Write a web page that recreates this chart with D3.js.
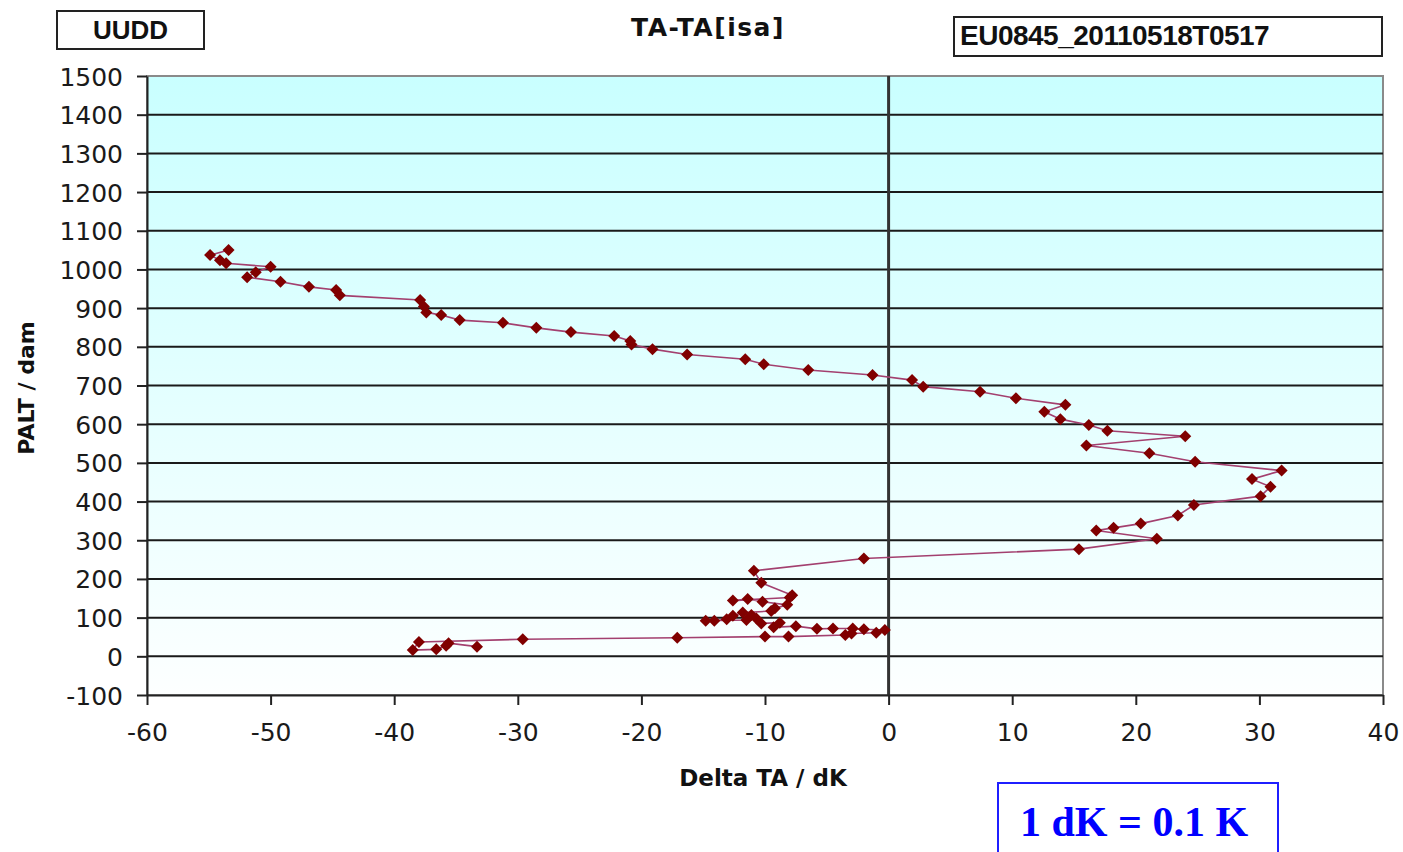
<!DOCTYPE html>
<html>
<head>
<meta charset="utf-8">
<script src="https://cdn.jsdelivr.net/npm/d3@7"></script>
<style>
  body { margin: 0; background: #fff; }
</style>
</head>
<body>
<div id="chart"></div>
<script>
// profile values, read top-down from the picture
const deltaTA = [
  -53.4, -54.9, -54.1, -53.6, -50.0, -51.2, -51.9, -49.2, -46.9, -44.7,
  -44.4, -37.9, -37.6, -37.4, -36.2, -34.7, -31.2, -28.5, -25.7, -22.2,
  -20.9, -20.8, -19.1, -16.3, -11.6, -10.1, -6.5, -1.3, 1.9, 2.8,
  7.4, 10.3, 14.3, 12.6, 13.9, 16.2, 17.7, 24.0, 16.0, 21.1,
  24.8, 31.8, 29.4, 30.9, 30.1, 24.7, 23.4, 20.4, 18.2, 16.8,
  21.7, 15.4, -2.0, -10.9, -10.3, -7.8, -8.0, -12.6, -11.4, -10.2,
  -8.2, -9.2, -9.5, -11.8, -12.6, -13.1, -14.1, -14.8, -11.5, -11.1,
  -10.7, -10.3, -8.8, -9.3, -7.5, -5.8, -4.5, -2.9, -2.0, -0.3,
  -1.0, -3.0, -3.5, -8.1, -10.0, -17.1, -29.6, -38.0, -38.5, -36.6,
  -35.8, -35.6, -33.3
];
const palt = [
  1050, 1037, 1024, 1016, 1007, 993, 980, 968, 955, 947,
  933, 921, 904, 889, 882, 869, 862, 849, 838, 828,
  815, 806, 794, 780, 768, 755, 740, 727, 714, 697,
  684, 667, 650, 632, 613, 598, 583, 569, 545, 525,
  503, 480, 458, 438, 414, 391, 364, 343, 332, 325,
  304, 277, 253, 221, 190, 158, 152, 144, 148, 141,
  133, 124, 117, 113, 105, 96, 92, 92, 94, 107,
  98, 85, 87, 75, 78, 71, 72, 72, 70, 68,
  61, 59, 55, 51, 51, 48, 44, 37, 16, 18,
  27, 34, 25
];
const xTicks = [-60, -50, -40, -30, -20, -10, 0, 10, 20, 30, 40];
const yTicks = [-100, 0, 100, 200, 300, 400, 500, 600, 700, 800, 900, 1000, 1100, 1200, 1300, 1400, 1500];

const chartTitle = 'TA-TA[isa]';
const stationLabel = 'UUDD';
const flightLabel = 'EU0845_20110518T0517';
const xTitle = 'Delta TA / dK';
const yTitle = 'PALT / dam';
const unitNote = '1 dK = 0.1 K';

const W = 1403, H = 852;
const margin = { top: 76, right: 20, bottom: 157, left: 147 };
const width = W - margin.left - margin.right;
const height = H - margin.top - margin.bottom;

const points = deltaTA.map((d, i) => ({ dt: d, alt: palt[i] }));

const svg = d3.select('#chart')
  .append('svg')
  .attr('width', W)
  .attr('height', H);

const defs = svg.append('defs');
const grad = defs.append('linearGradient')
  .attr('id', 'bg')
  .attr('x1', 0).attr('y1', 0).attr('x2', 0).attr('y2', 1);
grad.append('stop').attr('offset', '0%').attr('stop-color', '#c9ffff');
grad.append('stop').attr('offset', '100%').attr('stop-color', '#fdffff');

const g = svg.append('g')
  .attr('transform', `translate(${margin.left}, ${margin.top})`);

const x = d3.scaleLinear().domain([-60, 40]).range([0, width]);
const y = d3.scaleLinear().domain([-100, 1500]).range([height, 0]);
const plain = d => String(d);

// plot area
g.append('rect')
  .attr('width', width)
  .attr('height', height)
  .attr('fill', 'url(#bg)')
  .attr('stroke', '#8a8a8a')
  .attr('stroke-width', 2);

// horizontal grid lines
g.selectAll('.ygrid')
  .data(yTicks.filter(d => d > -100 && d < 1500))
  .join('line')
  .attr('x1', 0)
  .attr('x2', width)
  .attr('y1', d => y(d))
  .attr('y2', d => y(d))
  .attr('stroke', '#1a1a1a')
  .attr('stroke-width', 2);

// zero line
g.append('line')
  .attr('x1', x(0)).attr('x2', x(0))
  .attr('y1', 0).attr('y2', height)
  .attr('stroke', '#333')
  .attr('stroke-width', 3);

//x-axis
g.append('g')
  .attr('transform', `translate(0, ${height})`)
  .call(d3.axisBottom(x).tickValues(xTicks).tickFormat(plain).tickSize(10).tickPadding(18).tickSizeOuter(0))
  .call(ax => ax.select('.domain').attr('stroke', '#222').attr('stroke-width', 2))
  .call(ax => ax.selectAll('.tick line').attr('stroke', '#222').attr('stroke-width', 2))
  .selectAll('.tick text')
  .attr('fill', '#1a1a1a')
  .style('font-family', '"DejaVu Sans", Verdana, sans-serif')
  .style('font-size', '25px');

//y-axis
g.append('g')
  .call(d3.axisLeft(y).tickValues(yTicks).tickFormat(plain).tickSize(10).tickPadding(14).tickSizeOuter(0))
  .call(ax => ax.select('.domain').attr('stroke', '#222').attr('stroke-width', 2))
  .call(ax => ax.selectAll('.tick line').attr('stroke', '#222').attr('stroke-width', 2))
  .selectAll('.tick text')
  .attr('fill', '#1a1a1a')
  .attr('dy', '0.36em')
  .style('font-family', '"DejaVu Sans", Verdana, sans-serif')
  .style('font-size', '25px');

// profile line
const line = d3.line()
  .x(d => x(d.dt))
  .y(d => y(d.alt));

g.append('path')
  .datum(points)
  .attr('fill', 'none')
  .attr('stroke', '#a3406f')
  .attr('stroke-width', 1.6)
  .attr('d', line);

// markers (square turned into a diamond)
g.append('g')
  .selectAll('path')
  .data(points)
  .join('path')
  .attr('transform', d => `translate(${x(d.dt)}, ${y(d.alt)}) rotate(45)`)
  .attr('d', d3.symbol().type(d3.symbolSquare).size(72))
  .attr('fill', '#800000');

// titles
svg.append('text')
  .attr('x', 708)
  .attr('y', 36)
  .attr('text-anchor', 'middle')
  .style('font-family', '"DejaVu Sans", Verdana, sans-serif')
  .style('font-weight', 'bold')
  .style('font-size', '25px')
  .style('letter-spacing', '1.5px')
  .attr('fill', '#111')
  .text(chartTitle);

svg.append('rect')
  .attr('x', 57).attr('y', 11)
  .attr('width', 147).attr('height', 38)
  .attr('fill', '#fff')
  .attr('stroke', '#222')
  .attr('stroke-width', 2);
svg.append('text')
  .attr('x', 130.5)
  .attr('y', 39)
  .attr('text-anchor', 'middle')
  .style('font-family', '"Liberation Sans", Arial, sans-serif')
  .style('font-weight', 'bold')
  .style('font-size', '26px')
  .attr('fill', '#111')
  .text(stationLabel);

svg.append('rect')
  .attr('x', 954).attr('y', 17)
  .attr('width', 428).attr('height', 39)
  .attr('fill', '#fff')
  .attr('stroke', '#222')
  .attr('stroke-width', 2);
svg.append('text')
  .attr('x', 960)
  .attr('y', 45)
  .style('font-family', '"Liberation Sans", Arial, sans-serif')
  .style('font-weight', 'bold')
  .style('font-size', '28px')
  .style('letter-spacing', '-0.5px')
  .attr('fill', '#111')
  .text(flightLabel);

svg.append('text')
  .attr('x', 763)
  .attr('y', 786)
  .attr('text-anchor', 'middle')
  .style('font-family', '"DejaVu Sans", Verdana, sans-serif')
  .style('font-weight', 'bold')
  .style('font-size', '23px')
  .attr('fill', '#111')
  .text(xTitle);

svg.append('text')
  .attr('transform', 'translate(34, 388) rotate(-90)')
  .attr('text-anchor', 'middle')
  .style('font-family', '"DejaVu Sans", Verdana, sans-serif')
  .style('font-weight', 'bold')
  .style('font-size', '22px')
  .attr('fill', '#111')
  .text(yTitle);

// unit note box
svg.append('rect')
  .attr('x', 998).attr('y', 783)
  .attr('width', 280).attr('height', 90)
  .attr('fill', '#fff')
  .attr('stroke', '#1f1fff')
  .attr('stroke-width', 2);
svg.append('text')
  .attr('x', 1134)
  .attr('y', 836)
  .attr('text-anchor', 'middle')
  .style('font-family', '"Liberation Serif", "Times New Roman", serif')
  .style('font-weight', 'bold')
  .style('font-size', '42px')
  .attr('fill', '#0000ff')
  .text(unitNote);
</script>
</body>
</html>
